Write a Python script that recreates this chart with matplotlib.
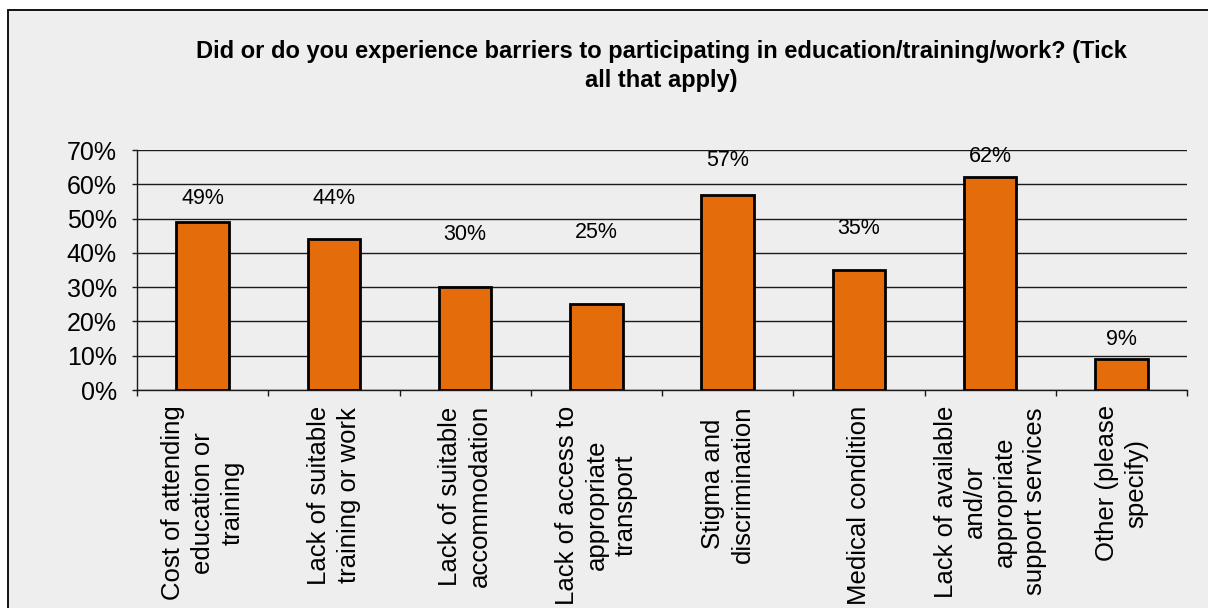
import matplotlib
matplotlib.use("Agg")
import matplotlib.pyplot as plt
from matplotlib.patches import Rectangle
from matplotlib.ticker import FixedLocator, NullFormatter

plt.rcParams['font.family'] = ['Liberation Sans', 'DejaVu Sans']

title = "Did or do you experience barriers to participating in education/training/work? (Tick\nall that apply)"
categories = [
    "Cost of attending\neducation or\ntraining",
    "Lack of suitable\ntraining or work",
    "Lack of suitable\naccommodation",
    "Lack of access to\nappropriate\ntransport",
    "Stigma and\ndiscrimination",
    "Medical condition",
    "Lack of available\nand/or\nappropriate\nsupport services",
    "Other (please\nspecify)",
]
values = [49, 44, 30, 25, 57, 35, 62, 9]
# Vertical gap between each bar top and its value label (percentage points)
label_gap = [7, 12, 15.5, 21, 10, 12, 6, 5.6]
y_ticks = [0, 10, 20, 30, 40, 50, 60, 70]

W, H = 1208, 608
fig = plt.figure(figsize=(W / 100, H / 100), dpi=100, facecolor="white")

# Chart area frame (extends past the lower and right edges)
frame = Rectangle((8 / W, -0.2), 1.2, 1 - 10 / H + 0.2, transform=fig.transFigure,
                  facecolor="#EEEEEE", edgecolor="black", linewidth=1.3, zorder=-10)
fig.patches.append(frame)

ax = fig.add_axes([137 / W, 1 - 390 / H, 1050 / W, 240 / H])
ax.set_facecolor("#EEEEEE")

x = list(range(len(values)))
ax.bar(x, values, width=0.4, color="#E46C0A", edgecolor="black", linewidth=2.0, zorder=3)

for xi, v, g in zip(x, values, label_gap):
    ax.text(xi, v + g, f"{v}%", ha="center", va="center", fontsize=15.5, zorder=4)

ax.set_xlim(-0.5, len(values) - 0.5)
ax.set_ylim(0, 70)
ax.set_yticks(y_ticks)
ax.set_yticklabels([f"{t}%" for t in y_ticks], fontsize=18)
ax.yaxis.grid(True, color="#1a1a1a", linewidth=1.0, zorder=1)
ax.set_axisbelow(True)

# Category ticks sit on the boundaries between bars
ax.xaxis.set_major_locator(FixedLocator([i - 0.5 for i in range(len(values) + 1)]))
ax.xaxis.set_major_formatter(NullFormatter())
ax.xaxis.set_minor_locator(FixedLocator(x))
ax.set_xticklabels(categories, minor=True, rotation=90, fontsize=18.5,
                   va="top", ha="center", multialignment="center", linespacing=1.3)
ax.tick_params(axis="x", which="minor", length=0, pad=11)
ax.tick_params(axis="x", which="major", length=4.5, width=1, color="#1a1a1a", direction="out")
ax.tick_params(axis="y", length=3.6, width=1, color="#1a1a1a", pad=11)

for s in ["top", "right"]:
    ax.spines[s].set_visible(False)
for s in ["left", "bottom"]:
    ax.spines[s].set_color("#1a1a1a")
    ax.spines[s].set_linewidth(1.0)

fig.text(661 / W, 1 - 66 / H, title, ha="center", va="center", fontsize=17,
         fontweight="bold", linespacing=1.28)

fig.savefig("out.png", dpi=100, facecolor=fig.get_facecolor())
